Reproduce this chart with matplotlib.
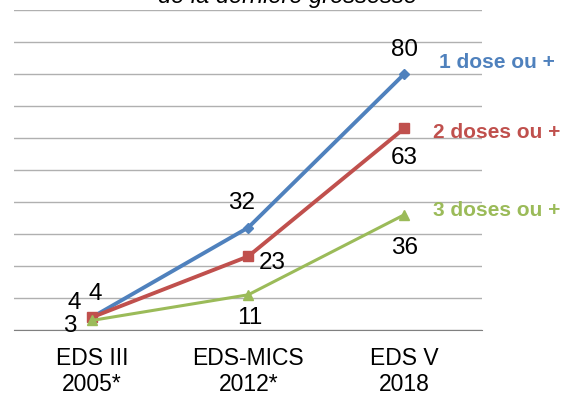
import numpy as np
import matplotlib
matplotlib.use('Agg')
import matplotlib.pyplot as plt

plt.rcParams['font.family'] = ['Liberation Sans', 'DejaVu Sans']

categories = ['EDS III\n2005*', 'EDS-MICS\n2012*', 'EDS V\n2018']
series_names = ['1 dose ou +', '2 doses ou +', '3 doses ou +']
dose1 = [4, 32, 80]
dose2 = [4, 23, 63]
dose3 = [3, 11, 36]

colors = ['#4F81BD', '#C0504D', '#9BBB59']
markers = ['D', 's', '^']
msizes = [5, 7, 7]
widths = [2.8, 2.8, 2.2]

fig = plt.figure(figsize=(5.68, 3.96), dpi=100)
ax = fig.add_axes([0.025, 0.1667, 0.824, 0.808])

x = np.arange(len(categories))
for vals, c, m, ms, lw in zip([dose1, dose2, dose3], colors, markers, msizes, widths):
    ax.plot(x, vals, color=c, lw=lw, marker=m, ms=ms, zorder=3)

ax.set_xlim(-0.5, 2.5)
ax.set_ylim(0, 100)
ax.set_yticks(np.arange(0, 101, 10))
ax.yaxis.grid(True, color='#B0B0B0', lw=1)
ax.set_axisbelow(True)
ax.set_yticklabels([])
ax.tick_params(axis='y', length=0)
ax.tick_params(axis='x', length=0, pad=12, labelsize=16.5)
ax.set_xticks(x)
ax.set_xticklabels(categories, linespacing=1.2)
for s in ['top', 'right', 'left']:
    ax.spines[s].set_visible(False)
ax.spines['bottom'].set_color('#808080')

# data labels (offsets in points)
lab = dict(fontsize=17.5, ha='center', va='center')
ax.annotate(str(dose1[0]), (x[0], dose1[0]), xytext=(2, 17), textcoords='offset points', **lab)
ax.annotate(str(dose2[0]), (x[0], dose2[0]), xytext=(-13, 10), textcoords='offset points', **lab)
ax.annotate(str(dose3[0]), (x[0], dose3[0]), xytext=(-16, -4), textcoords='offset points', **lab)
ax.annotate(str(dose1[1]), (x[1], dose1[1]), xytext=(-5, 18), textcoords='offset points', **lab)
ax.annotate(str(dose2[1]), (x[1], dose2[1]), xytext=(17, -5), textcoords='offset points', **lab)
ax.annotate(str(dose3[1]), (x[1], dose3[1]), xytext=(1, -17), textcoords='offset points', **lab)
ax.annotate(str(dose1[2]), (x[2], dose1[2]), xytext=(0, 17), textcoords='offset points', **lab)
ax.annotate(str(dose2[2]), (x[2], dose2[2]), xytext=(0, -21), textcoords='offset points', **lab)
ax.annotate(str(dose3[2]), (x[2], dose3[2]), xytext=(0, -24), textcoords='offset points', **lab)

# series names at right
for name, c, yy in zip(series_names, colors, [62, 133, 210]):
    fig.text(497 / 568, 1 - yy / 396, name, color=c, fontsize=15,
             fontweight='bold', ha='center', va='center')

# title, cut off at top
fig.text(287 / 568, 1 - (-3) / 396, 'de la dernière grossesse', fontsize=17,
         style='italic', ha='center', va='center')

fig.savefig('out.png', dpi=100)
